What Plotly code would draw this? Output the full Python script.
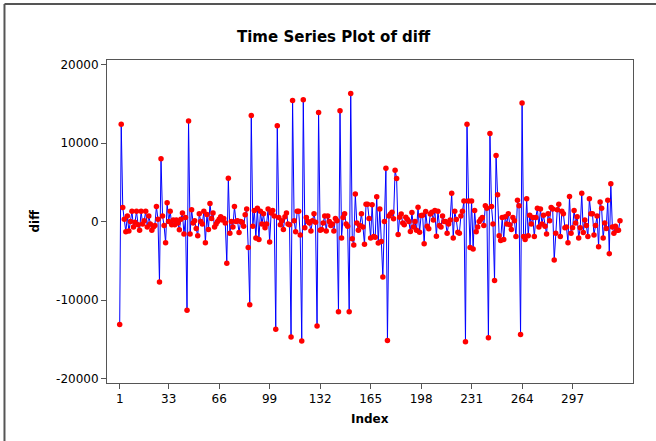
import plotly.graph_objects as go

seg1 = [-13100, 12400, 1800, 300, -1300, 700, -1200, 0, 1300, -700, -100, 1300, -400, -1100,
        1300, -300, 100, 1300, -700, 700, -300, -1100, -700, -500, 1900, 300, -7700, 8000, 700,
        -500, -2700, 2400, 0, 1300, -400, 200, -400]
seg2 = [200, -200, -1050, 300, 1100, -1600, 500, -11300, 12800, -1600, 1500, -200, 100, -900,
        -1800, 1000, 0, -300, 1300, -2700, 900, -1000, 2300, 400, 1100, -700, -300, 0, 300, 600,
        200, 400, -200, -5300, 5500, -1500, 0, -700, 1900, 0, 100, -1400, 0]
seg3 = [-100, -600, 850, 1600, -3300, -10600, 13500, -600, 1400, -2100, 1700, -2300, 1300, -300,
        1000, -800, -300, 1600, -2600, 1100, 1400, 700, -13700, 12200, 500, -400, 100, -1000, 600,
        1100, -300, -400, -14700, 15400, 100, -1300, 1300, 1300, -1700, -15200, 15500, -800, 500]
seg4 = [0, -200, -1200, 100, 1000, -100, -13300, 13900, -1100, -1000, -200, 700, -1200, 700, 0,
        -500, -300, -1200, 400, 100, -11500, 14100, -2100, 500, 1000, -300, -600, -11500, 16300,
        -2200, -3000, 3500, -200, -1100, -500, 1000, -700, -2900, 2200, 2200, 400, -2100]
seg5 = [2150, -1900, -2000, 3160, -2740, 1600, -2530, -7050, 0, 6800, -15150, 700, 970, 1180, 340,
        6540, 5490, -1650, 550, 970, -200, -420, 550, 300, 0, -1270, 1140, -700, 0, -1100, 1810,
        -1350, 760, 800, -2830, 1270, -600, -930, 970, 1180, 200, 1390, -1860]
seg6 = [1300, -500, -700, 700, 0, 0, -1500, -300, 200, 3600, -2100, 1300, 250, -1350, -1500, 700,
        1300, 2600, -15300, 12400, 2600, -3300, 2600, -3500, 1400, -1300, -700, 0, 300, 500, -500,
        2000, 1700, -14800, 11200, 1900, -300, -7500, 8400, 3400, -1800, -2400, 500]
seg7 = [-2300, 600, -300, 1000, -400, -1000, 500, 100, -1900, 2700, 2000, -14400, 15100, -1900,
        -2300, 2900, -1800, 800, -300, 500, -1900, 500, 1700, -700, 1600, -300, 800, -600, -1600,
        1000, 100, 1800, 1600, -4900, -1500, 1500, 2200, -1900, 1300, 1000, -800, -700, -2700, 3200]
seg8 = [-1500, -800, 1400, -200, 600, -2100, -800, 3600, -1400, 200, -500, -1900, 2900, 1000, 1000,
        -1700, -500, 700, -3200, 2500, 1700, -2100, -200, -900, 2700, -4100, 4800, -700, -1500,
        -600, -1100, -1100, 100]

diff = seg1 + seg2 + seg3 + seg4 + seg5 + seg6 + seg7 + seg8
index = list(range(1, len(diff) + 1))

x_ticks = [1, 33, 66, 99, 132, 165, 198, 231, 264, 297]
y_ticks = [-20000, -10000, 0, 10000, 20000]
y_ticktext = ["-20000", "-10000", "0", "10000", "20000"]

fig = go.Figure()
fig.add_trace(go.Scatter(
    x=index, y=diff, mode="lines+markers",
    line=dict(color="#0000ff", width=1),
    marker=dict(color="#ff0000", size=5.5, line=dict(width=0)),
    showlegend=False,
))

axis_font = dict(family="DejaVu Sans", size=12, color="#000000")
fig.update_layout(
    width=656, height=441,
    margin=dict(l=107, r=23, t=60, b=58),
    paper_bgcolor="white", plot_bgcolor="white",
    font=axis_font,
    xaxis=dict(range=[-7.3, 336.5], tickvals=x_ticks, showgrid=False, zeroline=False,
               showline=True, linecolor="#555555", linewidth=1, mirror=True,
               ticks="outside", ticklen=5, tickcolor="#555555", tickfont=axis_font),
    yaxis=dict(range=[-20560, 20570], tickvals=y_ticks, ticktext=y_ticktext,
               showgrid=False, zeroline=False,
               showline=True, linecolor="#555555", linewidth=1, mirror=True,
               ticks="outside", ticklen=5, tickcolor="#555555", tickfont=axis_font),
    annotations=[
        dict(text="<b>Time Series Plot of diff</b>", xref="paper", yref="paper", x=0.4316, y=1,
             yshift=23, xanchor="center", yanchor="middle", showarrow=False,
             font=dict(family="DejaVu Sans", size=15, color="#000000")),
        dict(text="<b>Index</b>", xref="paper", yref="paper", x=0.5, y=0,
             yshift=-36, yanchor="middle", showarrow=False,
             font=dict(family="DejaVu Sans", size=12, color="#000000")),
        dict(text="<b>diff</b>", xref="paper", yref="paper", x=0, y=0.5,
             xshift=-73, xanchor="center", yanchor="middle", textangle=-90, showarrow=False,
             font=dict(family="DejaVu Sans", size=12, color="#000000")),
    ],
    shapes=[
        dict(type="line", xref="paper", yref="paper", x0=-0.1949, x1=1.05, y0=1.1734, y1=1.1734,
             line=dict(color="#555555", width=2)),
        dict(type="line", xref="paper", yref="paper", x0=-0.1949, x1=-0.1949, y0=-0.2, y1=1.1734,
             line=dict(color="#555555", width=2)),
    ],
)

fig.write_html("out.html", config={"displayModeBar": False},
               post_script="document.body.style.margin='0';")
